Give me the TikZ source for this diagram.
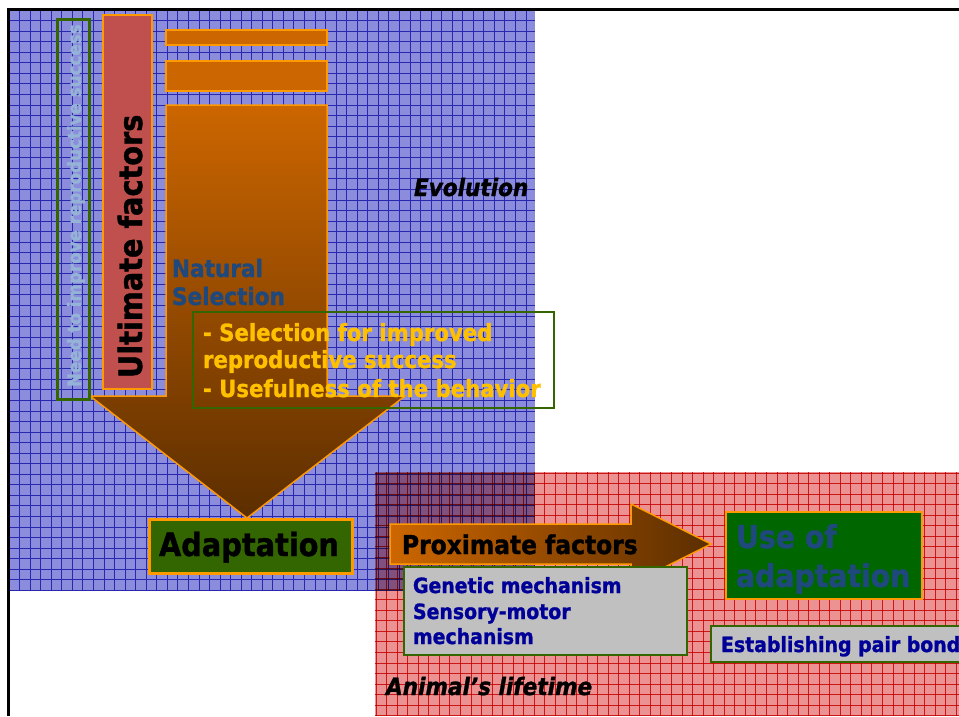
\documentclass[tikz,border=0pt]{standalone}
\usepackage{fontspec}
\setmainfont{DejaVu Sans Condensed}[BoldFeatures={FakeBold=1.2},BoldItalicFeatures={FakeBold=1.2}]
\definecolor{gridblue}{RGB}{40,40,175}
\definecolor{fillblue}{RGB}{140,140,220}
\definecolor{fillred}{RGB}{236,146,146}
\definecolor{gridred}{RGB}{222,40,40}
\definecolor{rust}{RGB}{204,102,0}
\definecolor{darkbrown}{RGB}{92,46,0}
\definecolor{edgeorange}{RGB}{255,153,0}
\definecolor{leaf}{RGB}{51,102,0}
\definecolor{forest}{RGB}{0,102,0}
\definecolor{brick}{RGB}{192,80,77}
\definecolor{slateblue}{RGB}{31,73,125}
\definecolor{amber}{RGB}{255,192,0}
\definecolor{navy}{RGB}{0,0,153}
\definecolor{silver}{RGB}{192,192,192}
\definecolor{skyblue}{RGB}{149,179,215}
\begin{document}
\begin{tikzpicture}[x=1pt,y=-1pt,
  lab/.style={inner sep=0pt,outer sep=0pt,anchor=base west},
  panel/.style={inner sep=0pt,outer sep=0pt,anchor=north west},
  fs/.style={font=\fontsize{#1}{#1}\selectfont\bfseries},
  fsi/.style={font=\fontsize{#1}{#1}\selectfont\bfseries\itshape},
  gridline/.style={line width=0.8pt}]
\useasboundingbox (0,0) rectangle (959,716);
\fill[white] (0,0) rectangle (959,716);

% evolution panel
\begin{scope}
  \clip (8,9) rectangle (535,591);
  \fill[fillblue] (8,9) rectangle (535,591);
  \foreach \k in {0,...,50} \draw[gridblue,gridline] ({9+10.55*\k},9) -- ({9+10.55*\k},591);
  \foreach \k in {0,...,56} \draw[gridblue,gridline] (8,{10+10.55*\k}) -- (535,{10+10.55*\k});
\end{scope}

% lifetime panel
\begin{scope}[blend mode=multiply]
  \clip (375,472) rectangle (960,716);
  \fill[fillred] (375,472) rectangle (960,716);
  \foreach \k in {0,...,56} \draw[gridred,gridline] ({376+10.55*\k},472) -- ({376+10.55*\k},716);
  \foreach \k in {0,...,23} \draw[gridred,gridline] (375,{473+10.55*\k}) -- (960,{473+10.55*\k});
\end{scope}

% stacked bars and the selection arrow
\node[panel,draw=edgeorange,line width=1.5pt,fill=rust,minimum width=161pt,minimum height=15pt] (bar1) at (166,30) {};
\node[panel,draw=edgeorange,line width=1.5pt,fill=rust,minimum width=161pt,minimum height=30pt] (bar2) at (166,61) {};
\draw[edgeorange,line width=1.5pt,top color=rust,bottom color=darkbrown]
  (166,105) -- (327,105) -- (327,396) -- (405,396) -- (247,518) -- (90,396) -- (166,396) -- cycle;

% ultimate factors column
\node[panel,draw=edgeorange,line width=1.5pt,fill=brick,minimum width=49pt,minimum height=374pt] (ultbox) at (103,15) {};
\node[lab,fs=32,rotate=90] (ultimate) at (142,378) {Ultimate factors};

% need column
\node[panel,draw=leaf,line width=3pt,minimum width=32pt,minimum height=380pt] (needbox) at (57,19) {};
\node[lab,fs=18.6,text=skyblue,rotate=90] (need) at (81,387) {Need to improve reproductive success};

% natural selection
\node[lab,fs=24,text=slateblue] (natural) at (172,277) {Natural};
\node[lab,fs=24,text=slateblue] (selection) at (172,305) {Selection};
\node[panel,draw=leaf,line width=2.5pt,minimum width=361pt,minimum height=96pt] (selbox) at (193,312) {};
\node[lab,fs=23.6,text=amber] (sel1) at (203,341) {- Selection for improved};
\node[lab,fs=23.6,text=amber] (sel2) at (203,368) {reproductive success};
\node[lab,fs=23.6,text=amber] (sel3) at (203,397) {- Usefulness of the behavior};

\node[lab,fsi=24] (evolution) at (414,196) {Evolution};

% adaptation
\node[panel,draw=edgeorange,line width=3pt,fill=leaf,minimum width=203pt,minimum height=54pt] (adaptbox) at (149,519) {};
\node[lab,fs=32] (adaptation) at (159,556) {Adaptation};

% proximate factors arrow
\draw[edgeorange,line width=1.5pt,left color=rust,right color=darkbrown]
  (390,524) -- (631,524) -- (631,504) -- (711,544) -- (631,584) -- (631,564) -- (390,564) -- cycle;
\node[lab,fs=26] (proximate) at (402,554) {Proximate factors};

\node[panel,draw=leaf,line width=2.5pt,fill=silver,minimum width=283pt,minimum height=88pt] (mechbox) at (404,567) {};
\node[lab,fs=21,text=navy] (mech1) at (413,593) {Genetic mechanism};
\node[lab,fs=21,text=navy] (mech2) at (413,619) {Sensory-motor};
\node[lab,fs=21,text=navy] (mech3) at (413,644) {mechanism};

% use of adaptation
\node[panel,draw=edgeorange,line width=2pt,fill=forest,minimum width=196pt,minimum height=87pt] (usebox) at (726,512) {};
\node[lab,fs=31.5,text=slateblue] (use1) at (736,548) {Use of};
\node[lab,fs=31.5,text=slateblue] (use2) at (736,587) {adaptation};

\node[panel,draw=leaf,line width=2.5pt,fill=silver,minimum width=260pt,minimum height=36pt] (pairbox) at (711,626) {};
\node[lab,fs=21,text=navy] (pair) at (721,652) {Establishing pair bond};

\node[lab,fsi=24] (lifetime) at (386,695) {Animal’s lifetime};

% frame
\draw[line width=3pt,line join=miter] (8,716) -- (8,9) -- (959,9);
\end{tikzpicture}
\end{document}
